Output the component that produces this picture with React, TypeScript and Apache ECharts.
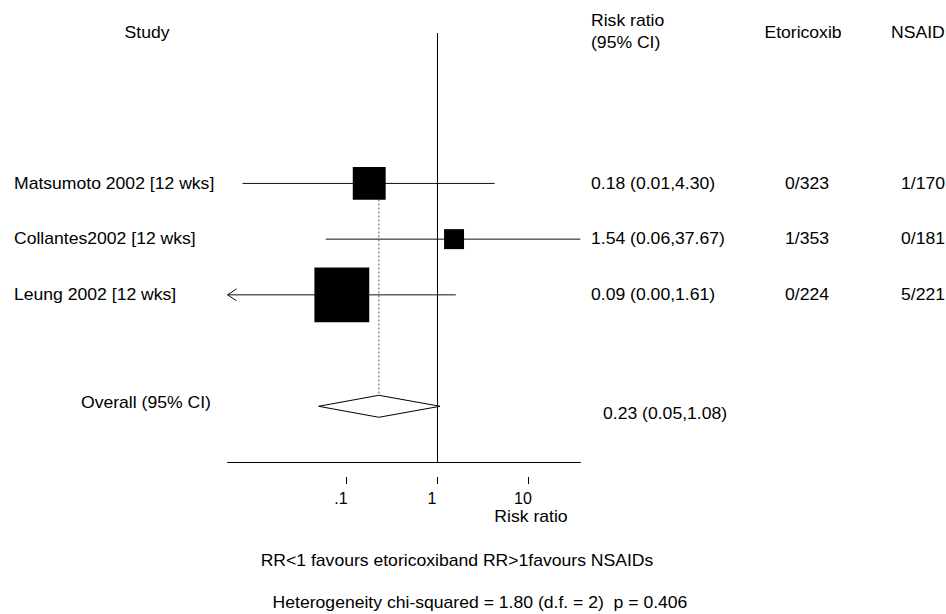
import React, { useEffect, useRef } from 'react';
import * as echarts from 'echarts';

// Study-level data
const studies = ['Matsumoto 2002 [12 wks]', 'Collantes2002 [12 wks]', 'Leung 2002 [12 wks]'];
const riskRatio = [0.18, 1.54, 0.09];
const ciLower = [0.0073, 0.06, 0.004];
const ciUpper = [4.3, 37.67, 1.61];
const studyWeight = [24.1, 8.9, 67.0];
const etoricoxibEvents = [0, 1, 0];
const etoricoxibTotal = [323, 353, 224];
const nsaidEvents = [1, 0, 5];
const nsaidTotal = [170, 181, 221];

// Pooled estimate
const overallLabel = 'Overall (95% CI)';
const overallRR = 0.23;
const overallLower = 0.05;
const overallUpper = 1.08;

// Heterogeneity test
const chiSquared = 1.8;
const degreesFreedom = 2;
const pValue = 0.406;

// Axis
const axisMin = 0.005;
const axisMax = Math.max(...ciUpper);
const tickValues = [0.1, 1, 10];
const tickLabels = ['.1', '1', '10'];

const FONT = '"Liberation Sans", Arial, Helvetica, sans-serif';
const FS = 16;
const SX = 1.1;

const overallRow = studies.length + 2;

const txt = (text: string, x: number, y: number, align: string = 'left') => ({
  type: 'text',
  x,
  y,
  scaleX: SX,
  silent: true,
  style: {
    text,
    fill: '#000',
    fontSize: FS,
    fontFamily: FONT,
    align,
    verticalAlign: 'middle',
  },
});

const fmt = (v: number) => v.toFixed(2);

export default function App() {
  const ref = useRef<HTMLDivElement>(null);

  useEffect(() => {
    if (!ref.current) return;
    const chart = echarts.init(ref.current, undefined, { renderer: 'svg' });

    const studyData = studies.map((_, i) => [riskRatio[i], ciLower[i], ciUpper[i], i + 1]);

    const option: any = {
      animation: false,
      backgroundColor: '#fff',
      grid: { left: 227.6, right: 946 - 580.4, top: 33, bottom: 152, containLabel: false },
      xAxis: [
        {
          type: 'log',
          logBase: 10,
          min: axisMin,
          max: axisMax,
          axisLine: { show: true, onZero: false, lineStyle: { color: '#000', width: 1 } },
          axisTick: { show: false },
          axisLabel: { show: false },
          splitLine: { show: false },
          minorTick: { show: false },
        },
        {
          type: 'log',
          logBase: 10,
          min: axisMin,
          max: axisMax,
          position: 'bottom',
          offset: 15,
          axisLine: { show: false, onZero: false },
          axisTick: {
            show: true,
            length: 7,
            customValues: tickValues,
            lineStyle: { color: '#000', width: 1 },
          },
          axisLabel: {
            customValues: tickValues,
            margin: 13,
            color: '#000',
            fontSize: FS,
            fontFamily: FONT,
            padding: [0, 10, 0, 0],
            formatter: (v: number) => {
              const i = tickValues.findIndex((t) => Math.abs(Math.log10(t) - Math.log10(v)) < 1e-6);
              return i >= 0 ? tickLabels[i] : '';
            },
          },
          splitLine: { show: false },
        },
      ],
      yAxis: {
        type: 'value',
        inverse: true,
        min: -1.7,
        max: 6,
        show: false,
      },
      graphic: [
        txt('Study', 147, 33, 'center'),
        txt('Risk ratio', 591, 21),
        txt('(95% CI)', 591, 43),
        txt('Etoricoxib', 803, 33, 'center'),
        txt('NSAID', 891, 33),
        txt('Risk ratio', 531, 517, 'center'),
        txt('RR<1 favours etoricoxiband RR>1favours NSAIDs', 457, 561, 'center'),
        txt(
          `Heterogeneity chi-squared = ${chiSquared.toFixed(2)} (d.f. = ${degreesFreedom})  p = ${pValue.toFixed(3)}`,
          480,
          603,
          'center'
        ),
      ],
      series: [
        {
          // Confidence intervals and table columns for each study
          type: 'custom',
          xAxisIndex: 0,
          encode: { x: [0, 1, 2], y: 3 },
          data: studyData,
          z: 2,
          renderItem: (params: any, api: any) => {
            const i = params.dataIndex;
            const est = api.value(0);
            const lo = api.value(1);
            const hi = api.value(2);
            const row = api.value(3);
            const cs = params.coordSys;
            const left = cs.x;
            const right = cs.x + cs.width;
            const y = api.coord([est, row])[1];
            const clipped = lo < axisMin;
            const x1 = clipped ? left : api.coord([lo, row])[0];
            const x2 = Math.min(right, api.coord([hi, row])[0]);
            const children: any[] = [
              {
                type: 'line',
                shape: { x1, y1: y, x2, y2: y },
                style: { stroke: '#111', lineWidth: 1 },
              },
            ];
            if (clipped) {
              children.push({
                type: 'polyline',
                shape: { points: [[x1 + 9, y - 6], [x1, y], [x1 + 9, y + 6]] },
                style: { stroke: '#111', lineWidth: 1, fill: 'none' },
              });
            }
            children.push(txt(studies[i], 14, y));
            children.push(txt(`${fmt(est)} (${fmt(lo)},${fmt(hi)})`, 591, y));
            children.push(txt(`${etoricoxibEvents[i]}/${etoricoxibTotal[i]}`, 807, y, 'center'));
            children.push(txt(`${nsaidEvents[i]}/${nsaidTotal[i]}`, 901, y));
            return { type: 'group', children };
          },
        },
        {
          // Pooled estimate: diamond and dotted reference line
          type: 'custom',
          xAxisIndex: 0,
          encode: { x: [0, 1, 2], y: 3 },
          data: [[overallRR, overallLower, overallUpper, overallRow]],
          z: 2,
          renderItem: (params: any, api: any) => {
            const est = api.value(0);
            const lo = api.value(1);
            const hi = api.value(2);
            const row = api.value(3);
            const [xe, y] = api.coord([est, row]);
            const xl = api.coord([lo, row])[0];
            const xh = api.coord([hi, row])[0];
            const yTop = api.coord([est, 1])[1];
            const h = 11;
            return {
              type: 'group',
              children: [
                {
                  type: 'line',
                  shape: { x1: xe, y1: yTop, x2: xe, y2: y - h },
                  style: { stroke: '#555', lineWidth: 1, lineDash: [2, 2] },
                },
                {
                  type: 'polygon',
                  shape: { points: [[xl, y], [xe, y - h], [xh, y], [xe, y + h]] },
                  style: { stroke: '#000', lineWidth: 1, fill: '#fff' },
                },
                txt(overallLabel, 81, y - 4),
                txt(`${fmt(est)} (${fmt(lo)},${fmt(hi)})`, 603, y + 7),
              ],
            };
          },
        },
        {
          // Study point estimates, box area proportional to weight
          type: 'scatter',
          xAxisIndex: 0,
          symbol: 'rect',
          symbolSize: (val: number[]) => Math.sqrt(val[2]) * 6.7,
          itemStyle: { color: '#000', opacity: 1 },
          z: 5,
          silent: true,
          data: riskRatio.map((v, i) => [v, i + 1, studyWeight[i]]),
          markLine: {
            silent: true,
            symbol: ['none', 'none'],
            label: { show: false },
            lineStyle: { color: '#000', width: 1, type: 'solid' },
            data: [{ xAxis: 1 }],
            z: 1,
          },
        },
      ],
    };

    chart.setOption(option);
    return () => chart.dispose();
  }, []);

  return (
    <div
      ref={ref}
      style={{ position: 'fixed', left: 0, top: 0, width: 946, height: 614, background: '#fff' }}
    />
  );
}
